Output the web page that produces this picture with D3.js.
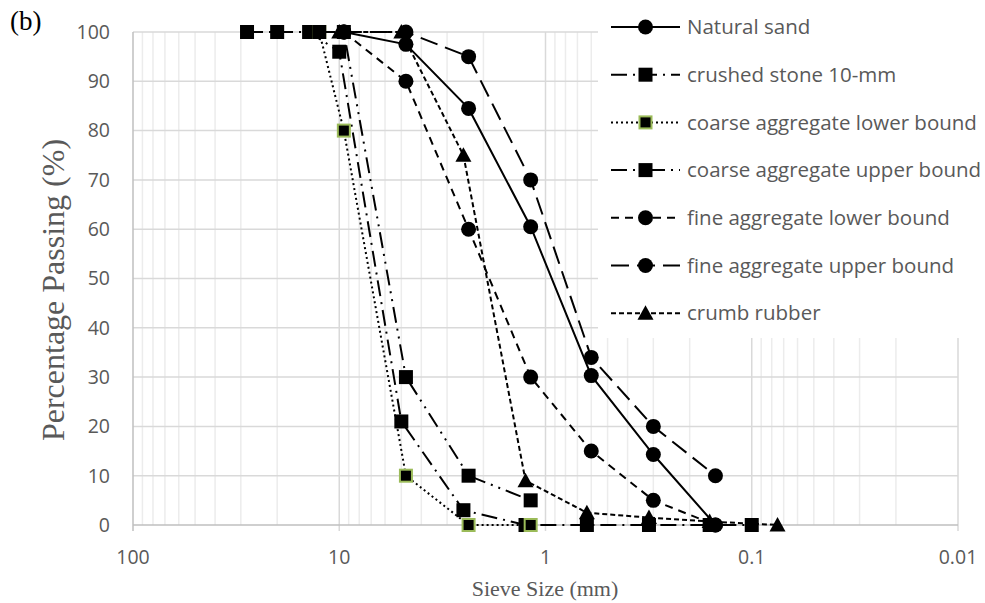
<!DOCTYPE html>
<html>
<head>
<meta charset="utf-8">
<script src="https://cdn.jsdelivr.net/npm/d3@7/dist/d3.min.js"></script>
<style>
  body { margin: 0; background: #fff; }
  .canvas text { font-family: "Open Sans", sans-serif; }
</style>
</head>
<body>
<div class="canvas"></div>
<script>
// sieve sizes (mm) used by each group of series
const sandSizes   = [9.5, 4.75, 2.36, 1.18, 0.6, 0.3, 0.15];
const coarseSizes = [12.5, 9.5, 4.75, 2.36, 1.18];
const stoneSizes  = [28, 20, 14, 10, 5, 2.5, 1.25, 0.63, 0.315, 0.16, 0.1];
const rubberSizes = [10, 5, 2.5, 1.25, 0.63, 0.315, 0.16, 0.075];

// percentage passing
const naturalSand  = [100, 97.5, 84.5, 60.5, 30.3, 14.3, 0];
const crushedStone = [100, 100, 100, 96, 21, 3, 0, 0, 0, 0, 0];
const coarseLower  = [100, 80, 10, 0, 0];
const coarseUpper  = [100, 100, 30, 10, 5];
const fineLower    = [100, 90, 60, 30, 15, 5, 0];
const fineUpper    = [100, 100, 95, 70, 34, 20, 10];
const crumbRubber  = [100, 100, 75, 9, 2.5, 1.5, 0.7, 0];

const seriesNames = ['Natural sand', 'crushed stone 10-mm', 'coarse aggregate lower bound',
  'coarse aggregate upper bound', 'fine aggregate lower bound', 'fine aggregate upper bound', 'crumb rubber'];

const xTicks = [100, 10, 1, 0.1, 0.01];
const yTicks = [0, 10, 20, 30, 40, 50, 60, 70, 80, 90, 100];

const dims = { width: 985, height: 603 };
const plot = { left: 133, right: 958, top: 32, bottom: 525 };

const svg = d3.select('.canvas')
  .append('svg')
  .attr('width', dims.width)
  .attr('height', dims.height);

const x = d3.scaleLog().domain([100, 0.01]).range([plot.left, plot.right]);
const y = d3.scaleLinear().domain([0, 100]).range([plot.bottom, plot.top]);

// series table built from the arrays above
const zip = (xs, ys) => xs.map((s, i) => ({ size: s, pass: ys[i] }));
const series = [
  { name: seriesNames[0], data: zip(sandSizes, naturalSand),    dash: null,           marker: 'circle' },
  { name: seriesNames[1], data: zip(stoneSizes, crushedStone),  dash: '16,6,2,6',     marker: 'square' },
  { name: seriesNames[2], data: zip(coarseSizes, coarseLower),  dash: '2,3',          marker: 'square', edge: '#9bbb59' },
  { name: seriesNames[3], data: zip(coarseSizes, coarseUpper),  dash: '16,6,2,6,2,6', marker: 'square' },
  { name: seriesNames[4], data: zip(sandSizes, fineLower),      dash: '8,6',          marker: 'circle' },
  { name: seriesNames[5], data: zip(sandSizes, fineUpper),      dash: '18,8',         marker: 'circle' },
  { name: seriesNames[6], data: zip(rubberSizes, crumbRubber),  dash: '5,3',          marker: 'triangle' }
];

// gridlines
const grid = svg.append('g');
const minor = [];
[10, 1, 0.1, 0.01].forEach(d => { for (let k = 2; k <= 9; k++) minor.push(k * d); });

grid.selectAll('line.minor')
  .data(minor)
  .enter().append('line')
    .attr('x1', d => x(d)).attr('x2', d => x(d))
    .attr('y1', plot.top).attr('y2', plot.bottom)
    .attr('stroke', '#ececec').attr('stroke-width', 1.5);

grid.selectAll('line.hmaj')
  .data(yTicks.slice(1))
  .enter().append('line')
    .attr('x1', plot.left).attr('x2', plot.right)
    .attr('y1', d => y(d)).attr('y2', d => y(d))
    .attr('stroke', '#d9d9d9').attr('stroke-width', 1.5);

grid.selectAll('line.vmaj')
  .data(xTicks)
  .enter().append('line')
    .attr('x1', d => x(d)).attr('x2', d => x(d))
    .attr('y1', plot.top).attr('y2', plot.bottom + 6)
    .attr('stroke', d => d === 100 ? '#bfbfbf' : '#d9d9d9').attr('stroke-width', 1.5);

// bottom axis line
svg.append('line')
  .attr('x1', plot.left).attr('x2', plot.right)
  .attr('y1', plot.bottom).attr('y2', plot.bottom)
  .attr('stroke', '#bfbfbf').attr('stroke-width', 1.5);

// tick labels
svg.append('g').selectAll('text')
  .data(yTicks)
  .enter().append('text')
    .attr('x', 110).attr('y', d => y(d))
    .attr('dy', '0.35em')
    .attr('text-anchor', 'end')
    .attr('font-size', 19.5).attr('fill', '#595959')
    .text(d => d);

svg.append('g').selectAll('text')
  .data(xTicks)
  .enter().append('text')
    .attr('x', d => x(d)).attr('y', 557)
    .attr('dy', '0.35em')
    .attr('text-anchor', 'middle')
    .attr('font-size', 19.5).attr('fill', '#595959')
    .text(d => d);

// axis titles
svg.append('text')
  .attr('transform', 'translate(53, 290) rotate(-90)')
  .attr('text-anchor', 'middle')
  .attr('dy', '0.35em')
  .style('font-family', '"Liberation Serif", "Times New Roman", serif')
  .attr('font-size', 32).attr('fill', '#595959')
  .text('Percentage Passing (%)');

svg.append('text')
  .attr('x', 545).attr('y', 588)
  .attr('text-anchor', 'middle')
  .attr('dy', '0.35em')
  .style('font-family', '"Liberation Serif", "Times New Roman", serif')
  .attr('font-size', 22).attr('fill', '#595959')
  .text('Sieve Size (mm)');

svg.append('text')
  .attr('x', 10).attr('y', 30)
  .style('font-family', '"Liberation Serif", "Times New Roman", serif')
  .attr('font-size', 27).attr('fill', '#000')
  .text('(b)');

// marker drawing
const drawMarker = (g, s, cx, cy) => {
  if (s.marker === 'circle') {
    g.append('circle').attr('cx', cx).attr('cy', cy).attr('r', 7.5).attr('fill', '#000');
  } else if (s.marker === 'square') {
    const h = s.edge ? 6 : 7;
    g.append('rect')
      .attr('x', cx - h).attr('y', cy - h).attr('width', 2 * h).attr('height', 2 * h)
      .attr('fill', '#000')
      .attr('stroke', s.edge || 'none').attr('stroke-width', 2);
  } else {
    g.append('path')
      .attr('d', `M${cx},${cy - 8}L${cx + 8},${cy + 6.5}L${cx - 8},${cy + 6.5}Z`)
      .attr('fill', '#000');
  }
};

const line = d3.line()
  .x(d => x(d.size))
  .y(d => y(d.pass));

const graph = svg.append('g');
series.forEach(s => {
  const g = graph.append('g');
  g.append('path')
    .attr('d', line(s.data))
    .attr('fill', 'none')
    .attr('stroke', '#000')
    .attr('stroke-width', 2)
    .attr('stroke-dasharray', s.dash);
  s.data.forEach(d => drawMarker(g, s, x(d.size), y(d.pass)));
});

// legend
const legend = svg.append('g');
legend.append('rect')
  .attr('x', 598).attr('y', 8).attr('width', 387).attr('height', 330)
  .attr('fill', '#fff');

series.forEach((s, i) => {
  const ly = 27 + i * 47.7;
  const row = legend.append('g');
  row.append('line')
    .attr('x1', 611).attr('x2', 680)
    .attr('y1', ly).attr('y2', ly)
    .attr('stroke', '#000').attr('stroke-width', 2)
    .attr('stroke-dasharray', s.dash);
  drawMarker(row, s, 645.5, ly);
  row.append('text')
    .attr('x', 687).attr('y', ly)
    .attr('dy', '0.35em')
    .attr('font-size', 20.5).attr('fill', '#595959')
    .text(s.name);
});
</script>
</body>
</html>
